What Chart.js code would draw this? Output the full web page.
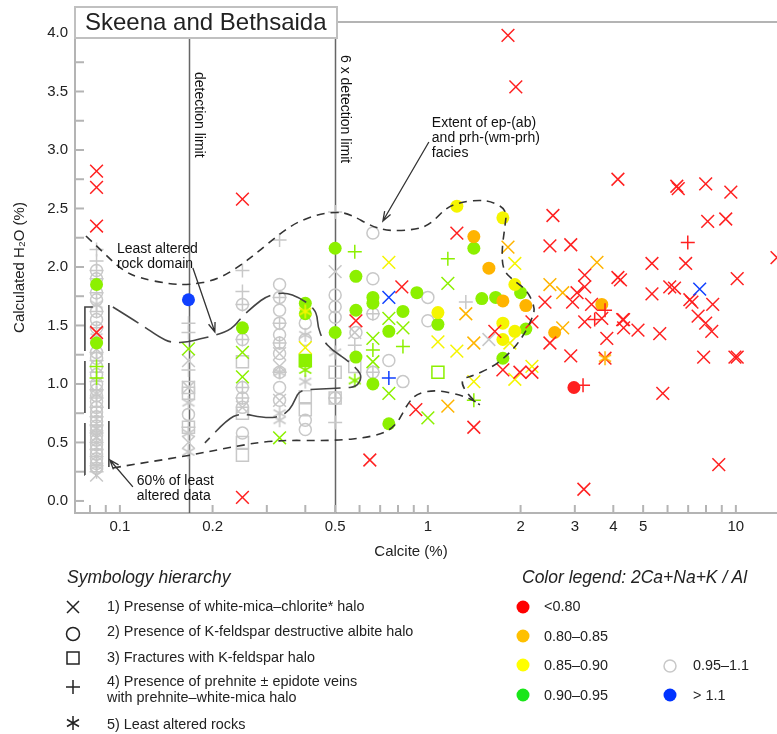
<!DOCTYPE html>
<html>
<head>
<meta charset="utf-8">
<script src="https://cdn.jsdelivr.net/npm/chart.js@4/dist/chart.umd.min.js"></script>
<style>
  body { margin: 0; background: #fff; }
  #wrap { position: relative; width: 777px; height: 734px; font-family: "Liberation Sans", Arial, sans-serif; color: #222; }
  #c { position: absolute; left: 0; top: 0; }
  .t { position: absolute; white-space: nowrap; font-size: 14.4px; line-height: 18px; }
  .h { font-style: italic; font-size: 17.5px; }
  .s { position: absolute; }
</style>
</head>
<body>
<div id="wrap">
  <canvas id="c" width="777" height="734"></canvas>

  <!-- legenda de simbolos -->
  <div class="t h" style="left:67px;top:568px">Symbology hierarchy</div>
  <svg class="s" style="left:65px;top:599px" width="16" height="16"><path d="M2 2L14 14M14 2L2 14" stroke="#222" stroke-width="1.5" fill="none"/></svg>
  <svg class="s" style="left:65px;top:626px" width="16" height="16"><circle cx="8" cy="8" r="6.5" stroke="#222" stroke-width="1.5" fill="none"/></svg>
  <svg class="s" style="left:65px;top:650px" width="16" height="16"><rect x="2" y="2" width="12" height="12" stroke="#222" stroke-width="1.5" fill="none"/></svg>
  <svg class="s" style="left:65px;top:679px" width="16" height="16"><path d="M8 1V15M1 8H15" stroke="#222" stroke-width="1.5" fill="none"/></svg>
  <svg class="s" style="left:65px;top:715px" width="16" height="16"><path d="M8 1V15M2 4.5L14 11.5M2 11.5L14 4.5" stroke="#222" stroke-width="1.5" fill="none"/></svg>
  <div class="t" style="left:107px;top:597px">1) Presense of white-mica–chlorite* halo</div>
  <div class="t" style="left:107px;top:622px">2) Presence of K-feldspar destructive albite halo</div>
  <div class="t" style="left:107px;top:648px">3) Fractures with K-feldspar halo</div>
  <div class="t" style="left:107px;top:672px">4) Presence of prehnite ± epidote veins</div>
  <div class="t" style="left:107px;top:688px">with prehnite–white-mica halo</div>
  <div class="t" style="left:107px;top:715px">5) Least altered rocks</div>

  <!-- legenda de cores -->
  <div class="t h" style="left:522px;top:568px">Color legend: 2Ca+Na+K / Al</div>
  <svg class="s" style="left:515px;top:599px" width="16" height="16"><circle cx="8" cy="8" r="6.5" fill="#ff0000"/></svg>
  <svg class="s" style="left:515px;top:628px" width="16" height="16"><circle cx="8" cy="8" r="6.5" fill="#ffc000"/></svg>
  <svg class="s" style="left:515px;top:657px" width="16" height="16"><circle cx="8" cy="8" r="6.5" fill="#ffff00"/></svg>
  <svg class="s" style="left:515px;top:687px" width="16" height="16"><circle cx="8" cy="8" r="6.5" fill="#19e619"/></svg>
  <svg class="s" style="left:662px;top:658px" width="16" height="16"><circle cx="8" cy="8" r="6" stroke="#c8c8c8" stroke-width="1.5" fill="none"/></svg>
  <svg class="s" style="left:662px;top:687px" width="16" height="16"><circle cx="8" cy="8" r="6.5" fill="#0033ff"/></svg>
  <div class="t" style="left:544px;top:597px">&lt;0.80</div>
  <div class="t" style="left:544px;top:627px">0.80–0.85</div>
  <div class="t" style="left:544px;top:656px">0.85–0.90</div>
  <div class="t" style="left:544px;top:686px">0.90–0.95</div>
  <div class="t" style="left:693px;top:656px">0.95–1.1</div>
  <div class="t" style="left:693px;top:686px">&gt; 1.1</div>
</div>

<script>
// Eixos
const X_MIN = 0.0715, X_MAX = 13.6;
const Y_MIN = -0.103, Y_MAX = 4.094;
const xTickValues = [0.08, 0.09, 0.1, 0.2, 0.3, 0.4, 0.5, 0.6, 0.7, 0.8, 0.9, 1, 2, 3, 4, 5, 6, 7, 8, 9, 10];
const xTickLabels = [0.1, 0.2, 0.5, 1, 2, 3, 4, 5, 10];
const yTickValues = [0, 0.25, 0.5, 0.75, 1, 1.25, 1.5, 1.75, 2, 2.25, 2.5, 2.75, 3, 3.25, 3.5, 3.75, 4];
const yTickLabels = [0, 0.5, 1, 1.5, 2, 2.5, 3, 3.5, 4];
const xTitle = 'Calcite (%)';

// Limites de deteccao
const detectionLimits = [0.1675, 0.5];
const detectionNames = ["detection limit", "6 x detection limit"];

// Coluna abaixo do limite (calcite = 0.084)
const col1X = 0.084;
const col1GrayCircle = [1.97, 1.90, 1.78, 1.72, 1.62, 1.55, 1.48, 1.27, 1.22, 1.15, 1.08, 1.00, 0.95, 0.90, 0.85, 0.80, 0.76, 0.72, 0.68, 0.64, 0.60, 0.56, 0.52, 0.48, 0.44, 0.40, 0.36, 0.32, 0.28];
const col1GrayPlus = [2.15, 2.05, 1.97, 1.90, 1.78, 1.62, 1.48, 1.27, 1.20, 1.10, 1.02, 0.95, 0.88, 0.80, 0.72, 0.65, 0.58, 0.50, 0.44, 0.38, 0.30, 0.25];
const col1GrayStar = [1.68, 1.40, 0.92, 0.62, 0.30];
const col1GrayX = [0.22, 1.30, 0.55];

// Pontos cinza (0.95-1.1)
const grayCircle = [[0.167,0.74],[0.25,1.68],[0.25,1.38],[0.25,0.97],[0.25,0.88],[0.25,0.80],[0.25,0.58],
  [0.33,1.85],[0.33,1.74],[0.33,1.63],[0.33,1.52],[0.33,1.42],[0.33,1.35],[0.33,1.26],[0.33,1.10],[0.33,0.97],[0.33,0.86],
  [0.40,1.52],[0.40,1.38],[0.40,0.69],[0.40,0.61],[0.5,1.76],[0.5,1.66],[0.5,1.57],[0.5,0.88],
  [0.663,2.29],[0.663,1.90],[1.0,1.74],[1.0,1.54],[0.663,1.60],[0.584,1.44],[0.747,1.20],[0.663,1.10],[0.83,1.02]];
const grayPlus = [[0.167,1.52],[0.167,1.44],[0.167,1.12],[0.167,0.63],[0.25,1.97],[0.25,1.79],[0.25,1.68],[0.25,1.38],[0.25,0.97],[0.25,0.88],
  [0.33,2.23],[0.33,1.74],[0.33,1.52],[0.33,1.35],[0.33,1.10],[0.5,2.47],[0.5,0.88],[0.5,0.67],
  [0.579,1.33],[1.328,1.70],[0.663,1.60],[0.663,1.10]];
const grayX = [[0.167,1.20],[0.167,0.97],[0.167,0.50],[0.25,0.80],[0.33,1.26],[0.33,1.15],[0.33,0.86],[0.5,1.96],[1.578,1.38],[0.579,1.44]];
const graySquare = [[0.167,0.97],[0.167,0.92],[0.167,0.63],[0.25,1.19],[0.25,0.75],[0.25,0.50],[0.25,0.39],[0.40,0.89],[0.40,0.78],[0.5,1.10],[0.5,0.88],[0.579,1.15]];
const grayStar = [[0.167,0.84],[0.167,0.58],[0.167,0.42],[0.33,1.10],[0.33,0.75],[0.33,0.69],[0.40,1.42],[0.40,1.02],[0.5,1.27]];

// Pontos vermelhos (<0.80)
const redX = [[0.084,2.82],[0.084,2.68],[0.084,2.35],[0.084,1.44],[0.25,2.58],[0.25,0.03],
  [0.823,1.83],[0.584,1.54],[1.242,2.29],[0.914,0.78],[1.41,0.63],[0.648,0.35],[1.82,3.98],[1.93,3.54],
  [4.14,2.75],[2.547,2.44],[2.49,2.18],[2.91,2.19],[3.23,1.93],[3.23,1.83],[4.14,1.91],[4.22,1.89],[4.29,1.55],
  [2.4,1.70],[2.95,1.70],[3.05,1.78],[3.4,1.68],[3.23,1.53],[3.67,1.56],[2.177,1.53],[1.65,1.45],[2.49,1.35],
  [3.81,1.39],[2.91,1.24],[3.76,1.22],[1.752,1.12],[1.99,1.10],[2.177,1.10],[3.21,0.10],
  [6.43,2.69],[6.5,2.67],[7.98,2.71],[9.63,2.64],[8.1,2.39],[9.27,2.41],[5.34,2.03],[6.87,2.03],[10.1,1.90],
  [5.34,1.77],[6.1,1.83],[6.32,1.82],[7.09,1.72],[7.2,1.70],[8.41,1.68],[7.54,1.58],[7.98,1.52],[8.35,1.45],
  [4.32,1.55],[4.32,1.48],[4.81,1.46],[5.66,1.43],[7.86,1.23],[9.93,1.23],[10.1,1.23],[5.79,0.92],[8.8,0.31],[13.6,2.08]];
const redCircle = [[2.98,0.97]];
const redPlus = [[3.76,1.63],[3.48,1.55],[3.19,0.99],[6.98,2.21]];

// Laranja (0.80-0.85)
const orangeX = [[1.328,1.60],[1.41,1.35],[1.161,0.81],[1.82,2.17],[3.54,2.04],[2.49,1.85],[2.74,1.78],[2.74,1.48]];
const orangeCircle = [[1.41,2.26],[1.578,1.99],[1.752,1.71],[2.08,1.67],[2.58,1.44],[3.67,1.68]];
const orangeStar = [[3.76,1.22]];

// Amarelo (0.85-0.90)
const yellowX = [[0.40,1.31],[0.747,2.04],[1.078,1.36],[1.242,1.28],[1.41,1.02],[1.916,2.03],[1.846,1.35],[2.177,1.15],[1.916,1.04]];
const yellowCircle = [[1.078,1.61],[1.242,2.52],[1.752,2.42],[1.916,1.85],[1.752,1.52],[1.916,1.45],[1.752,1.38]];
const yellowStar = [[0.40,1.62]];

// Verde (0.90-0.95)
const greenCircle = [[0.084,1.85],[0.084,1.35],[0.25,1.48],[0.40,1.69],[0.40,1.60],[0.5,2.16],[0.5,1.44],
  [0.584,1.92],[0.663,1.74],[0.663,1.69],[0.921,1.78],[0.584,1.63],[0.83,1.62],[0.747,1.45],[1.078,1.51],
  [0.584,1.23],[0.663,1.0],[0.747,0.66],[1.41,2.16],[1.497,1.73],[1.66,1.74],[2.0,1.78],[2.08,1.47],[1.752,1.22]];
const greenX = [[0.167,1.30],[0.25,1.27],[0.25,1.06],[0.33,0.54],[0.747,1.56],[0.83,1.48],[0.663,1.39],[0.663,1.19],[1.161,1.86],[0.747,0.92],[1.0,0.71]];
const greenPlus = [[0.084,1.15],[0.084,1.05],[0.579,2.13],[0.663,1.29],[0.83,1.32],[1.161,2.07],[1.41,0.86]];
const greenSquare = [[0.40,1.20]];
const greenOpenSquare = [[1.078,1.10]];
const greenStar = [[0.40,1.12],[0.579,1.03]];

// Azul (>1.1)
const blueCircle = [[0.167,1.72]];
const blueX = [[0.747,1.74],[7.63,1.81]];
const bluePlus = [[0.747,1.05]];

// Curvas desenhadas a mao (coordenadas de dados)
const extentUpper = [[0.0776,2.265],[0.0887,2.12],[0.1015,1.974],[0.1153,1.906],[0.1443,1.855],[0.1675,1.846],[0.2065,1.889],
  [0.2453,2.009],[0.2807,2.128],[0.3236,2.265],[0.3757,2.385],[0.446,2.453],[0.506,2.47],[0.558,2.453],[0.663,2.342],
  [0.753,2.308],[0.894,2.316],[1.015,2.359],[1.152,2.513],[1.299,2.556],[1.475,2.573],[1.626,2.556],[1.805,2.487],
  [1.778,2.342],[1.738,2.145],[1.752,1.974],[1.888,1.889],[2.097,1.803],[2.226,1.658],[2.193,1.573],[2.034,1.402],
  [1.846,1.265],[1.626,1.145],[1.369,1.06],[1.299,1.051],[1.289,0.991],[1.369,0.889],[1.475,0.821]];
const extentLower = [[0.0949,0.282],[0.1188,0.325],[0.1651,0.385],[0.2225,0.453],[0.314,0.521],[0.491,0.513],[0.663,0.547],
  [0.782,0.624],[0.861,0.838],[0.928,0.923],[1.07,0.949],[1.27,0.906],[1.40,0.863],[1.475,0.821]];
const domainCurve = [[0.0949,1.658],[0.1179,1.504],[0.1338,1.402],[0.1475,1.35],[0.1662,1.359],[0.1819,1.385],[0.2065,1.419],
  [0.2311,1.47],[0.249,1.573],[0.2744,1.675],[0.3001,1.752],[0.3433,1.786],[0.3841,1.735],[0.414,1.675],[0.436,1.607],
  [0.4395,1.487],[0.456,1.376],[0.488,1.291],[0.5457,1.205],[0.5925,1.12],[0.6106,1.06],[0.588,0.974],[0.5297,0.966],
  [0.446,0.957],[0.3841,0.949],[0.37,0.863],[0.3565,0.778],[0.3307,0.718],[0.2957,0.709],[0.2453,0.752],[0.2225,0.692],[0.1888,0.496]];
const bracketLeft = [[0.0817,1.658],[0.077,1.658],[0.077,0.222],[0.0831,0.222]];
const bracketRight = [[0.0921,1.675],[0.0921,0.197]];

// Setas e textos
const arrows = [
  [[0.1726,1.991],[0.2034,1.444]],
  [[0.1102,0.120],[0.0928,0.350]],
  [[1.0075,3.068],[0.7144,2.393]]
];
const notes = [
  { x: 0.0978, y: 2.154, lines: ["Least altered", "rock domain"] },
  { x: 0.1135, y: 0.171, lines: ["60% of least", "altered data"] },
  { x: 1.03, y: 3.23, lines: ["Extent of ep-(ab)", "and prh-(wm-prh)", "facies"] }
];

const FONT = '"Liberation Sans", Arial, sans-serif';
const RED = '#ff2020', ORANGE = '#ffb400', YELLOW = '#f5f500', GREEN = '#8cf000', GRAY = '#c8c8c8', BLUE = '#1040ff';

// asterisco de 6 bracos
function asterisk(color) {
  const c = document.createElement('canvas');
  c.width = 16; c.height = 16;
  const g = c.getContext('2d');
  g.strokeStyle = color;
  g.lineWidth = 1.5;
  g.beginPath();
  [90, 30, 150].forEach(a => {
    const dx = 7 * Math.cos(a * Math.PI / 180), dy = 7 * Math.sin(a * Math.PI / 180);
    g.moveTo(8 - dx, 8 - dy);
    g.lineTo(8 + dx, 8 + dy);
  });
  g.stroke();
  return c;
}

function pts(list) {
  return list.map(p => ({ x: p[0], y: p[1] }));
}

function serie(list, kind, color, order) {
  const d = { data: pts(list), borderColor: color, backgroundColor: color, borderWidth: 1.5, order: order };
  if (kind === 'x') { d.pointStyle = 'crossRot'; d.pointRadius = 9; }
  if (kind === 'plus') { d.pointStyle = 'cross'; d.pointRadius = 7; }
  if (kind === 'dot') { d.pointStyle = 'circle'; d.pointRadius = 6.5; d.borderWidth = 0; }
  if (kind === 'ring') { d.pointStyle = 'circle'; d.pointRadius = 6; d.backgroundColor = 'rgba(0,0,0,0)'; }
  if (kind === 'box') { d.pointStyle = 'rect'; d.pointRadius = 8.5; d.backgroundColor = 'rgba(0,0,0,0)'; }
  if (kind === 'fbox') { d.pointStyle = 'rect'; d.pointRadius = 8.5; }
  if (kind === 'star') { d.pointStyle = asterisk(color); d.pointRadius = 8; }
  d.pointHoverRadius = d.pointRadius;
  return d;
}

const col1 = ys => ys.map(y => [col1X, y]);

const datasets = [
  serie(col1(col1GrayCircle).concat(grayCircle), 'ring', GRAY, 20),
  serie(col1(col1GrayPlus).concat(grayPlus), 'plus', GRAY, 19),
  serie(col1(col1GrayX).concat(grayX), 'x', GRAY, 18),
  serie(graySquare, 'box', GRAY, 17),
  serie(col1(col1GrayStar).concat(grayStar), 'star', GRAY, 16),
  serie(greenCircle, 'dot', GREEN, 12),
  serie(greenX, 'x', GREEN, 11),
  serie(greenPlus, 'plus', GREEN, 11),
  serie(greenSquare, 'fbox', GREEN, 11),
  serie(greenOpenSquare, 'box', GREEN, 11),
  serie(greenStar, 'star', GREEN, 10),
  serie(yellowCircle, 'dot', YELLOW, 9),
  serie(yellowX, 'x', YELLOW, 8),
  serie(yellowStar, 'star', YELLOW, 8),
  serie(orangeCircle, 'dot', ORANGE, 7),
  serie(orangeX, 'x', ORANGE, 6),
  serie(redX, 'x', RED, 5),
  serie(orangeStar, 'star', ORANGE, 4),
  serie(redCircle, 'dot', RED, 4),
  serie(redPlus, 'plus', RED, 3),
  serie(blueCircle, 'dot', BLUE, 2),
  serie(blueX, 'x', BLUE, 2),
  serie(bluePlus, 'plus', BLUE, 2)
];

// curva suavizada pelos pontos medios
function curve(ctx, xs, ys, list, smooth) {
  const p = list.map(q => [xs.getPixelForValue(q[0]), ys.getPixelForValue(q[1])]);
  ctx.beginPath();
  ctx.moveTo(p[0][0], p[0][1]);
  if (!smooth || p.length < 3) {
    for (let i = 1; i < p.length; i++) ctx.lineTo(p[i][0], p[i][1]);
  } else {
    for (let i = 1; i < p.length - 1; i++) {
      const mx = (p[i][0] + p[i + 1][0]) / 2, my = (p[i][1] + p[i + 1][1]) / 2;
      ctx.quadraticCurveTo(p[i][0], p[i][1], mx, my);
    }
    const last = p[p.length - 1];
    ctx.lineTo(last[0], last[1]);
  }
  ctx.stroke();
}

const decoPlugin = {
  id: 'deco',
  beforeDatasetsDraw(chart) {
    const { ctx, chartArea, scales } = chart;
    const xs = scales.x;
    ctx.save();
    // linhas de deteccao
    ctx.strokeStyle = '#666';
    ctx.lineWidth = 1.5;
    detectionLimits.forEach(v => {
      const X = Math.round(xs.getPixelForValue(v)) + 0.5;
      ctx.beginPath();
      ctx.moveTo(X, chartArea.top);
      ctx.lineTo(X, chartArea.bottom);
      ctx.stroke();
    });
    ctx.restore();
  },
  afterDraw(chart) {
    const { ctx, chartArea, scales } = chart;
    const xs = scales.x, ys = scales.y;
    ctx.save();

    // marcas dos eixos para dentro
    ctx.strokeStyle = '#b4b4b4';
    ctx.lineWidth = 2;
    xs.ticks.forEach(t => {
      const X = xs.getPixelForValue(t.value);
      ctx.beginPath();
      ctx.moveTo(X, chartArea.bottom);
      ctx.lineTo(X, chartArea.bottom - 8);
      ctx.stroke();
    });
    ys.ticks.forEach(t => {
      const Y = ys.getPixelForValue(t.value);
      ctx.beginPath();
      ctx.moveTo(chartArea.left, Y);
      ctx.lineTo(chartArea.left + 9, Y);
      ctx.stroke();
    });
    // linha de cima
    ctx.beginPath();
    ctx.moveTo(chartArea.left, chartArea.top);
    ctx.lineTo(chartArea.right, chartArea.top);
    ctx.stroke();

    // titulo do eixo x
    ctx.fillStyle = '#222';
    ctx.font = '15px ' + FONT;
    ctx.textAlign = 'center';
    ctx.textBaseline = 'middle';
    ctx.fillText(xTitle, 411, 552);

    // curvas tracejadas
    ctx.strokeStyle = '#333';
    ctx.lineWidth = 1.6;
    ctx.setLineDash([8, 6]);
    curve(ctx, xs, ys, extentUpper, true);
    curve(ctx, xs, ys, extentLower, true);
    ctx.setLineDash([30, 8]);
    ctx.strokeStyle = '#444';
    curve(ctx, xs, ys, domainCurve, true);
    ctx.setLineDash([52, 10]);
    curve(ctx, xs, ys, bracketLeft, false);
    ctx.setLineDash([46, 12]);
    curve(ctx, xs, ys, bracketRight, false);
    ctx.setLineDash([]);

    // setas
    ctx.strokeStyle = '#333';
    ctx.lineWidth = 1.3;
    arrows.forEach(a => {
      const x1 = xs.getPixelForValue(a[0][0]), y1 = ys.getPixelForValue(a[0][1]);
      const x2 = xs.getPixelForValue(a[1][0]), y2 = ys.getPixelForValue(a[1][1]);
      const ang = Math.atan2(y2 - y1, x2 - x1);
      ctx.beginPath();
      ctx.moveTo(x1, y1);
      ctx.lineTo(x2, y2);
      ctx.moveTo(x2 - 10 * Math.cos(ang - 0.35), y2 - 10 * Math.sin(ang - 0.35));
      ctx.lineTo(x2, y2);
      ctx.lineTo(x2 - 10 * Math.cos(ang + 0.35), y2 - 10 * Math.sin(ang + 0.35));
      ctx.stroke();
    });

    // textos das anotacoes
    ctx.fillStyle = '#111';
    ctx.font = '14px ' + FONT;
    ctx.textBaseline = 'middle';
    ctx.textAlign = 'left';
    notes.forEach(n => {
      const X = xs.getPixelForValue(n.x), Y = ys.getPixelForValue(n.y);
      n.lines.forEach((l, i) => ctx.fillText(l, X, Y + i * 15));
    });

    // textos verticais dos limites
    const starts = [72, 55];
    detectionLimits.forEach((v, i) => {
      const X = xs.getPixelForValue(v) + 10;
      ctx.save();
      ctx.translate(X, starts[i]);
      ctx.rotate(Math.PI / 2);
      ctx.fillText(detectionNames[i], 0, 0);
      ctx.restore();
    });

    // caixa do titulo
    ctx.fillStyle = '#fff';
    ctx.strokeStyle = '#c0c0c0';
    ctx.lineWidth = 2;
    ctx.fillRect(chartArea.left, 7, 262, 31);
    ctx.strokeRect(chartArea.left, 7, 262, 31);
    ctx.fillStyle = '#222';
    ctx.font = '24px ' + FONT;
    ctx.fillText('Skeena and Bethsaida', chartArea.left + 10, 23);
    ctx.restore();
  }
};

new Chart(document.getElementById('c'), {
  type: 'scatter',
  data: { datasets: datasets },
  options: {
    responsive: false,
    animation: false,
    layout: { autoPadding: false, padding: { top: 22, bottom: 169, left: 0, right: 0 } },
    plugins: { legend: { display: false }, tooltip: { enabled: false } },
    scales: {
      x: {
        type: 'logarithmic',
        min: X_MIN,
        max: X_MAX,
        afterBuildTicks: s => { s.ticks = xTickValues.map(v => ({ value: v })); },
        afterFit: s => { s.height = 52; s.paddingLeft = 0; s.paddingRight = 0; },
        grid: { drawOnChartArea: false, drawTicks: false, color: 'rgba(0,0,0,0)' },
        border: { display: true, color: '#b4b4b4', width: 2 },
        ticks: {
          autoSkip: false, maxRotation: 0, padding: 5, color: '#222',
          font: { family: FONT, size: 15 },
          callback: v => { const t = xTickLabels.find(k => Math.abs(k - v) / k < 1e-6); return t === undefined ? '' : String(t); }
        },
        title: { display: false }
      },
      y: {
        min: Y_MIN,
        max: Y_MAX,
        afterBuildTicks: s => { s.ticks = yTickValues.map(v => ({ value: v })); },
        afterFit: s => { s.width = 75; s.paddingTop = 0; s.paddingBottom = 0; },
        grid: { drawOnChartArea: false, drawTicks: false, color: 'rgba(0,0,0,0)' },
        border: { display: true, color: '#b4b4b4', width: 2 },
        ticks: {
          autoSkip: false, padding: 7, color: '#222',
          font: { family: FONT, size: 15 },
          callback: v => { const t = yTickLabels.find(k => Math.abs(k - v) < 1e-6); return t === undefined ? '' : t.toFixed(1); }
        },
        title: { display: true, text: 'Calculated H₂O (%)', color: '#222', font: { family: FONT, size: 15 }, padding: { top: 11, bottom: 0 } }
      }
    }
  },
  plugins: [decoPlugin]
});
</script>
</body>
</html>
